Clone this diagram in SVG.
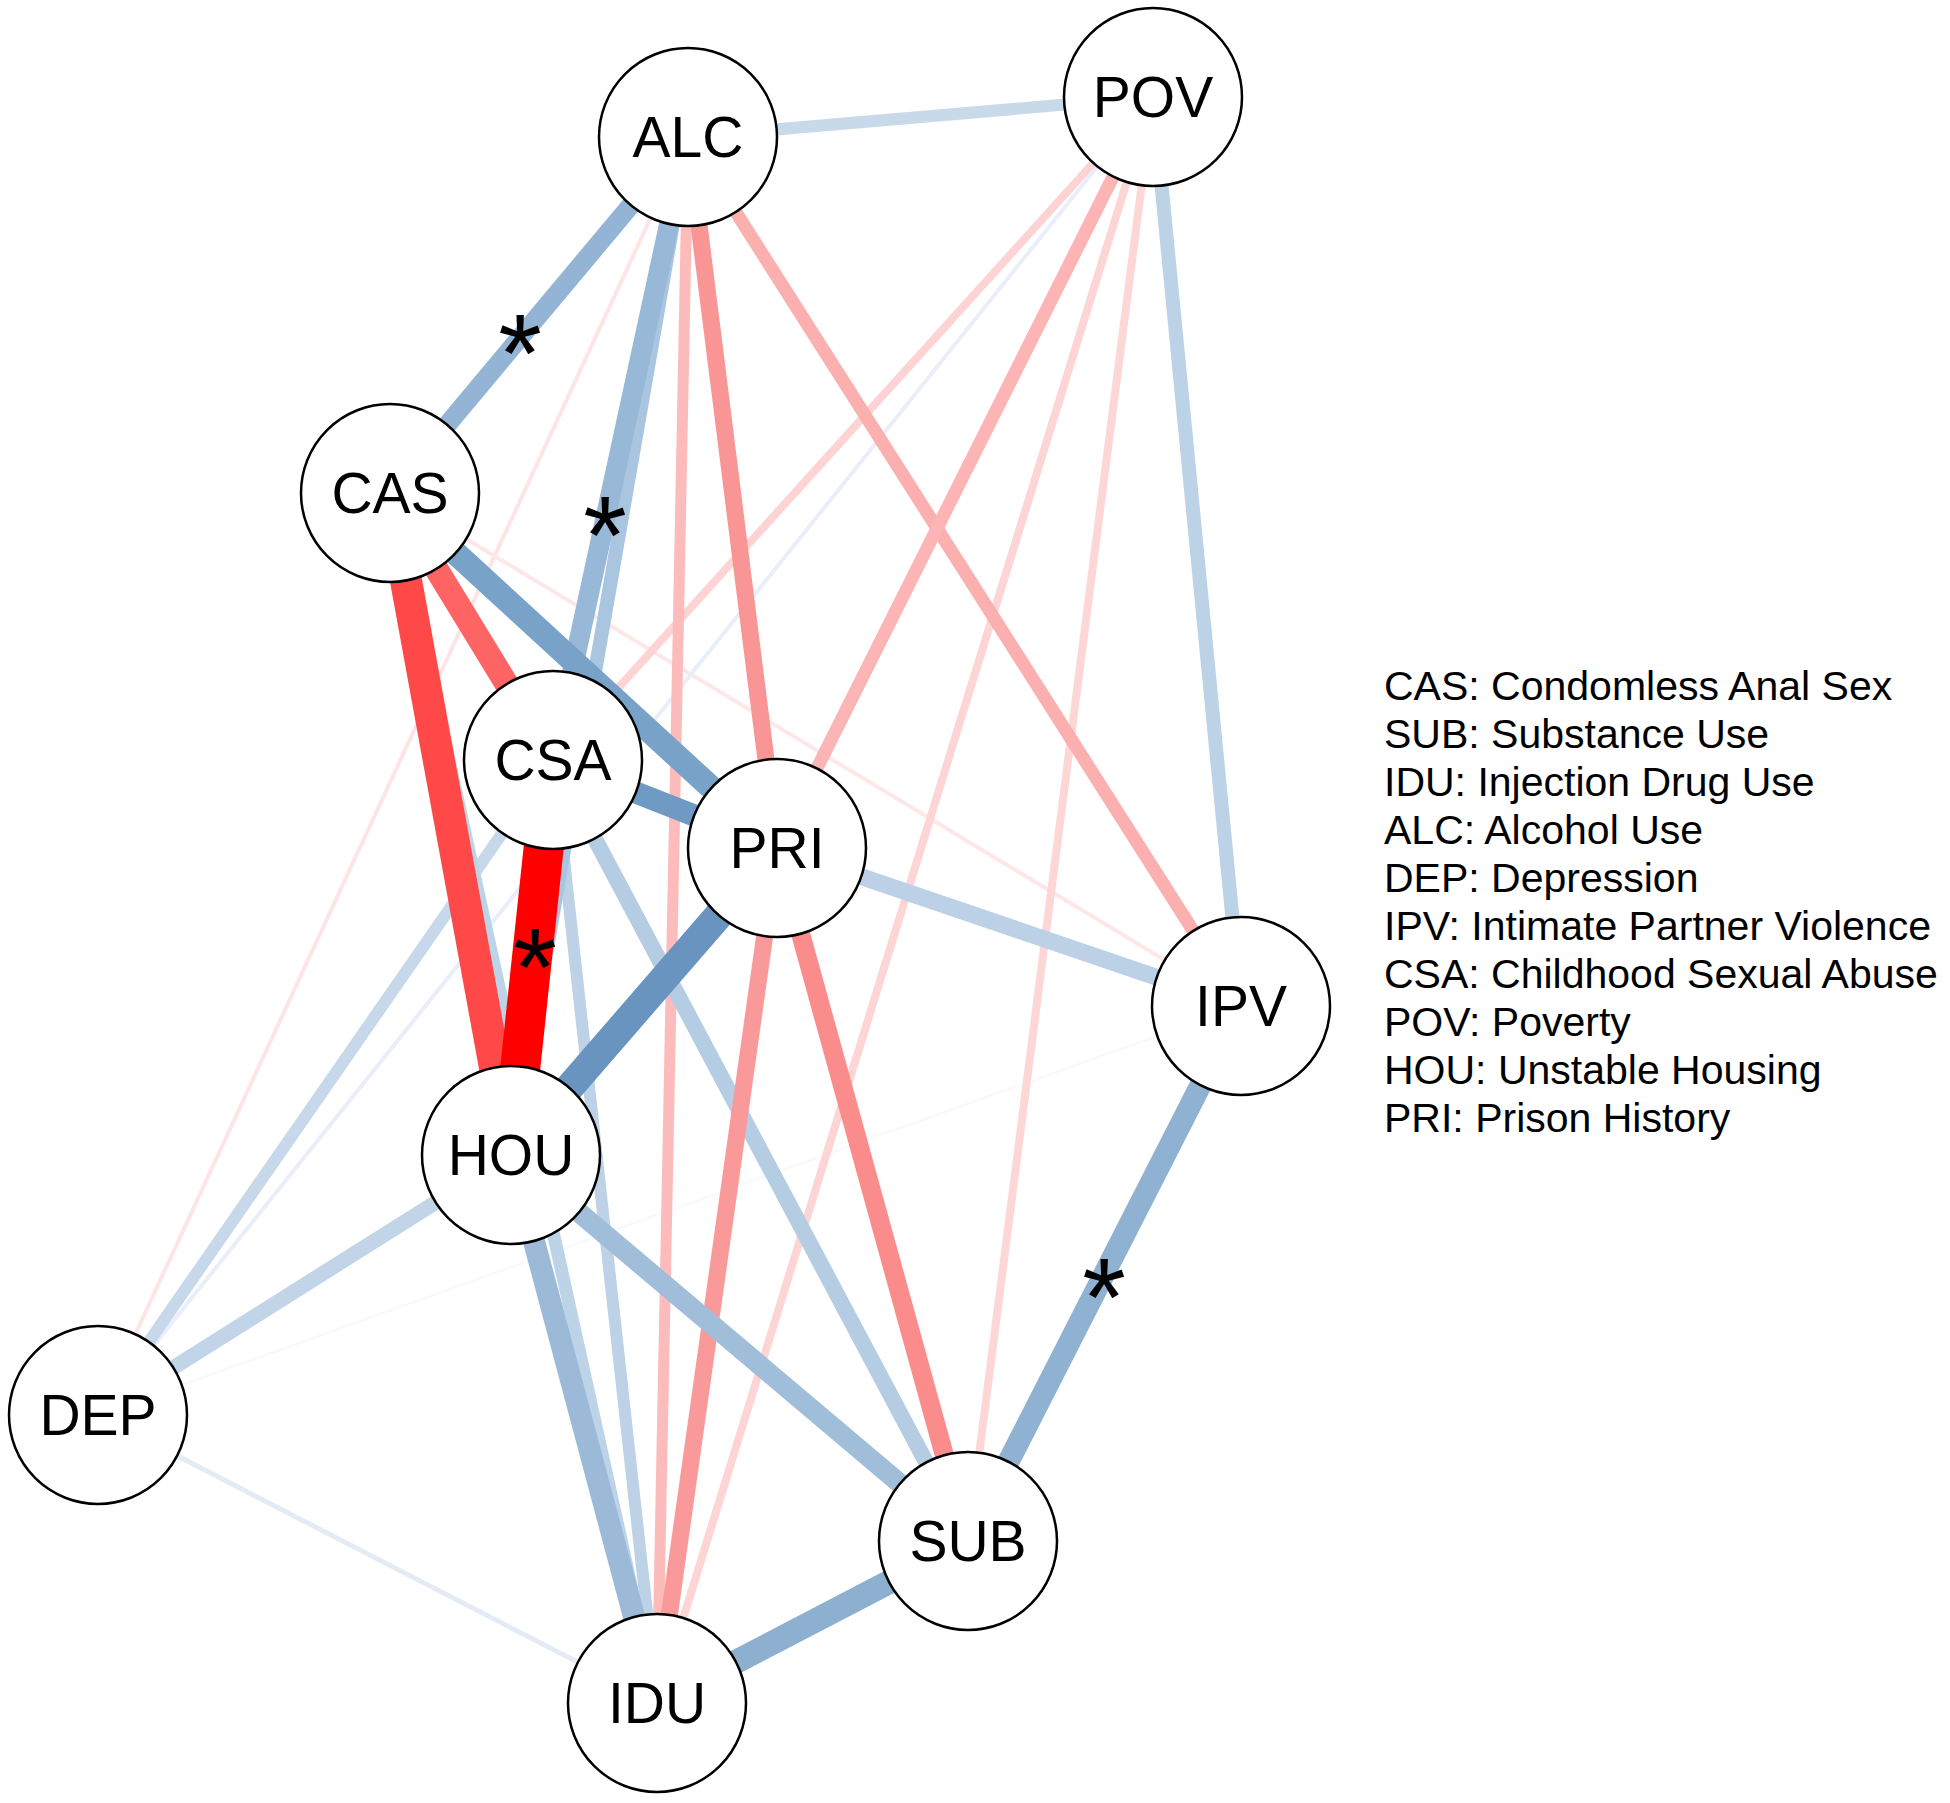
<svg xmlns="http://www.w3.org/2000/svg" width="1950" height="1803" viewBox="0 0 1950 1803">
<style>
.bg{fill:#ffffff}
#edges line{fill:none;stroke-linecap:butt}
.n circle{fill:#ffffff;stroke:#000000;stroke-width:2.5}
.n text{font-family:"Liberation Sans",Arial,sans-serif;font-size:57px;text-anchor:middle;fill:#000000}
.star{font-family:"Liberation Sans",Arial,sans-serif;font-size:112px;text-anchor:middle;fill:#000000}
#legend text{font-family:"Liberation Sans",Arial,sans-serif;font-size:41px;fill:#000000}
</style>
<rect class="bg" x="0" y="0" width="1950" height="1803"/>
<g id="edges">
<line x1="1241" y1="1006" x2="98" y2="1415" stroke="#f9fafb" stroke-width="3"/>
<line x1="688" y1="137" x2="98" y2="1415" stroke="#fde5e5" stroke-width="4"/>
<line x1="390" y1="493" x2="1241" y2="1006" stroke="#fde7e7" stroke-width="4"/>
<line x1="1153" y1="97" x2="98" y2="1415" stroke="#e8eff8" stroke-width="4"/>
<line x1="98" y1="1415" x2="657" y2="1703" stroke="#e3ecf5" stroke-width="5"/>
<line x1="1153" y1="97" x2="553" y2="760" stroke="#fdd3d3" stroke-width="8"/>
<line x1="1153" y1="97" x2="657" y2="1703" stroke="#fdd5d5" stroke-width="8"/>
<line x1="1153" y1="97" x2="968" y2="1541" stroke="#fdd6d6" stroke-width="8"/>
<line x1="688" y1="137" x2="657" y2="1703" stroke="#fdbcbc" stroke-width="11"/>
<line x1="553" y1="760" x2="98" y2="1415" stroke="#c6d8ea" stroke-width="12"/>
<line x1="688" y1="137" x2="1153" y2="97" stroke="#c8d9ea" stroke-width="12"/>
<line x1="553" y1="760" x2="657" y2="1703" stroke="#bdd2e6" stroke-width="12"/>
<line x1="390" y1="493" x2="657" y2="1703" stroke="#bdd3e7" stroke-width="13"/>
<line x1="1153" y1="97" x2="1241" y2="1006" stroke="#bcd2e6" stroke-width="14"/>
<line x1="688" y1="137" x2="1241" y2="1006" stroke="#fbafaf" stroke-width="13"/>
<line x1="1153" y1="97" x2="777" y2="848" stroke="#fcb4b4" stroke-width="13"/>
<line x1="688" y1="137" x2="511" y2="1155" stroke="#a9c5df" stroke-width="14"/>
<line x1="511" y1="1155" x2="98" y2="1415" stroke="#c2d5e8" stroke-width="15"/>
<line x1="553" y1="760" x2="968" y2="1541" stroke="#b5cde3" stroke-width="16"/>
<line x1="777" y1="848" x2="1241" y2="1006" stroke="#bcd1e6" stroke-width="17"/>
<line x1="777" y1="848" x2="657" y2="1703" stroke="#fa9999" stroke-width="17"/>
<line x1="688" y1="137" x2="777" y2="848" stroke="#fa9595" stroke-width="17"/>
<line x1="688" y1="137" x2="390" y2="493" stroke="#93b4d4" stroke-width="19"/>
<line x1="777" y1="848" x2="968" y2="1541" stroke="#fb8c8c" stroke-width="19"/>
<line x1="511" y1="1155" x2="968" y2="1541" stroke="#a0bdd9" stroke-width="20"/>
<line x1="688" y1="137" x2="553" y2="760" stroke="#97b8d6" stroke-width="20"/>
<line x1="1241" y1="1006" x2="968" y2="1541" stroke="#8fb2d2" stroke-width="22"/>
<line x1="511" y1="1155" x2="657" y2="1703" stroke="#9cbad7" stroke-width="22"/>
<line x1="968" y1="1541" x2="657" y2="1703" stroke="#8db0d1" stroke-width="24"/>
<line x1="553" y1="760" x2="777" y2="848" stroke="#6e9ac4" stroke-width="22"/>
<line x1="390" y1="493" x2="777" y2="848" stroke="#79a2c9" stroke-width="24"/>
<line x1="390" y1="493" x2="553" y2="760" stroke="#ff6464" stroke-width="24"/>
<line x1="777" y1="848" x2="511" y2="1155" stroke="#6894bf" stroke-width="29"/>
<line x1="390" y1="493" x2="511" y2="1155" stroke="#ff4848" stroke-width="32"/>
<line x1="553" y1="760" x2="511" y2="1155" stroke="#ff0000" stroke-width="40"/>
</g>
<g id="edge-labels">
<text class="star" x="520" y="392">*</text>
<text class="star" x="605" y="574">*</text>
<text class="star" x="535" y="1006">*</text>
<text class="star" x="1104" y="1336">*</text>
</g>
<g id="node-ALC" class="n"><circle cx="688" cy="137" r="89"/><text x="688" y="157">ALC</text></g>
<g id="node-POV" class="n"><circle cx="1153" cy="97" r="89"/><text x="1153" y="117">POV</text></g>
<g id="node-CAS" class="n"><circle cx="390" cy="493" r="89"/><text x="390" y="513">CAS</text></g>
<g id="node-CSA" class="n"><circle cx="553" cy="760" r="89"/><text x="553" y="780">CSA</text></g>
<g id="node-PRI" class="n"><circle cx="777" cy="848" r="89"/><text x="777" y="868">PRI</text></g>
<g id="node-IPV" class="n"><circle cx="1241" cy="1006" r="89"/><text x="1241" y="1026">IPV</text></g>
<g id="node-HOU" class="n"><circle cx="511" cy="1155" r="89"/><text x="511" y="1175">HOU</text></g>
<g id="node-DEP" class="n"><circle cx="98" cy="1415" r="89"/><text x="98" y="1435">DEP</text></g>
<g id="node-SUB" class="n"><circle cx="968" cy="1541" r="89"/><text x="968" y="1561">SUB</text></g>
<g id="node-IDU" class="n"><circle cx="657" cy="1703" r="89"/><text x="657" y="1723">IDU</text></g>
<g id="legend">
<text x="1384" y="700">CAS: Condomless Anal Sex</text>
<text x="1384" y="748">SUB: Substance Use</text>
<text x="1384" y="796">IDU: Injection Drug Use</text>
<text x="1384" y="844">ALC: Alcohol Use</text>
<text x="1384" y="892">DEP: Depression</text>
<text x="1384" y="940">IPV: Intimate Partner Violence</text>
<text x="1384" y="988">CSA: Childhood Sexual Abuse</text>
<text x="1384" y="1036">POV: Poverty</text>
<text x="1384" y="1084">HOU: Unstable Housing</text>
<text x="1384" y="1132">PRI: Prison History</text>
</g>
</svg>
